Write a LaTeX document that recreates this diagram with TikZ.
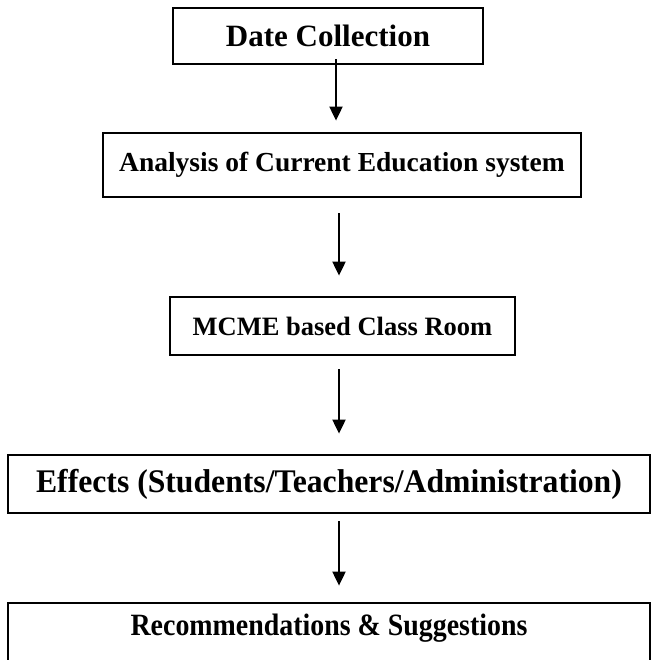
\documentclass[tikz,border=0pt]{standalone}
\usepackage{fontspec}
\setmainfont{Liberation Serif}
\usetikzlibrary{arrows.meta}
\newcommand{\squash}[2]{\scalebox{#1}[1]{#2}}
\begin{document}
\begin{tikzpicture}[x=1pt,y=-1pt,
  box/.style={draw, line width=2.8pt, inner sep=0pt, align=center,
    font=\fontsize{31}{36}\selectfont\bfseries},
  flow/.style={line width=2pt, -{Triangle[width=13pt,length=14pt]}}]
\useasboundingbox (0,0) rectangle (655,660);
\node[box, minimum width=310, minimum height=56] (b1) at (328,36) {Date Collection};
\node[box, minimum width=478, minimum height=64, font=\fontsize{27.5}{32}\selectfont\bfseries] (b2) at (342,165) {Analysis of Current Education system};
\node[box, minimum width=345, minimum height=58, font=\fontsize{26.5}{31}\selectfont\bfseries] (b3) at (342.5,326) {MCME based Class Room};
\node[box, minimum width=642, minimum height=58, font=\fontsize{33}{38}\selectfont\bfseries] (b4) at (329,484) {\squash{0.96}{Effects (Students/Teachers/Administration)}};
\node[box, minimum width=642, minimum height=65, text height=15pt, text depth=15pt] (b5) at (329,635.5) {\squash{0.9}{Recommendations \& Suggestions}};
\draw[flow] ([xshift=8pt,yshift=6pt]b1.south) -- ([xshift=-6pt,yshift=11pt]b2.north);
\draw[flow] ([xshift=-3pt,yshift=-15pt]b2.south) -- ([xshift=-3.5pt,yshift=20pt]b3.north);
\draw[flow] ([xshift=-3.5pt,yshift=-13pt]b3.south) -- ([xshift=10pt,yshift=20pt]b4.north);
\draw[flow] ([xshift=10pt,yshift=-7pt]b4.south) -- ([xshift=10pt,yshift=16pt]b5.north);
\end{tikzpicture}
\end{document}
